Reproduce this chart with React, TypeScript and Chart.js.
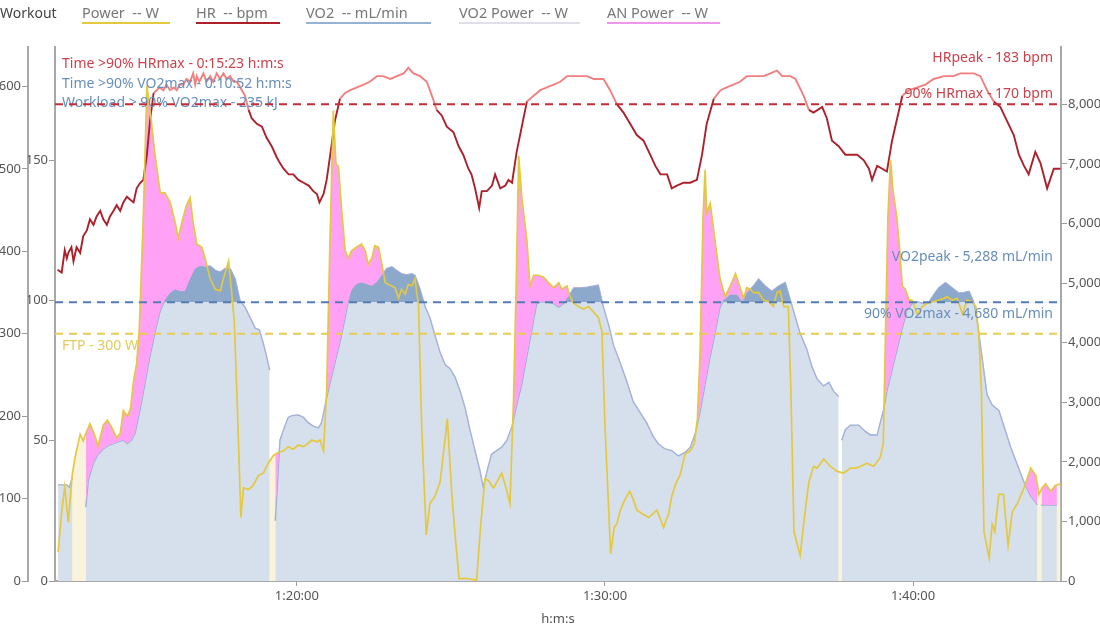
import React, { useEffect, useRef } from 'react';
import { Chart, registerables } from 'chart.js';

Chart.register(...registerables);

type Sample = [number, number | null];

// time in seconds since start of activity
const powerSamples: Sample[] = [
  [4335, 35], [4342, 84], [4348, 114], [4355, 71], [4362, 126], [4368, 150], [4378, 178], [4384, 170], [4389, 179], [4397, 191],
  [4405, 179], [4413, 164], [4423, 189], [4431, 195], [4439, 187], [4449, 174], [4456, 179], [4462, 207], [4470, 200], [4476, 209],
  [4482, 243], [4488, 264], [4493, 304], [4501, 443], [4508, 601], [4514, 571], [4524, 516], [4534, 471], [4543, 471], [4553, 460],
  [4563, 435], [4569, 416], [4576, 435], [4585, 456], [4592, 465], [4598, 435], [4605, 409], [4615, 405], [4621, 392], [4631, 367],
  [4641, 354], [4651, 352], [4657, 367], [4667, 388], [4673, 350], [4678, 316], [4683, 231], [4691, 77], [4696, 113], [4706, 111],
  [4715, 116], [4725, 128], [4735, 131], [4744, 143], [4754, 152], [4764, 156], [4774, 158], [4783, 163], [4793, 160], [4803, 165],
  [4813, 163], [4822, 167], [4829, 171], [4839, 169], [4845, 171], [4852, 158], [4858, 231], [4864, 401], [4871, 571], [4876, 507],
  [4881, 503], [4887, 452], [4894, 401], [4900, 392], [4907, 401], [4916, 405], [4926, 409], [4933, 401], [4939, 384], [4946, 392],
  [4952, 407], [4959, 405], [4965, 386], [4972, 362], [4978, 360], [4985, 358], [4991, 356], [4998, 343], [5004, 354], [5011, 348],
  [5017, 360], [5024, 358], [5030, 367], [5037, 333], [5043, 188], [5052, 56], [5059, 94], [5069, 103], [5079, 120], [5093, 197],
  [5102, 103], [5108, 56], [5116, 3], [5131, 3], [5150, 1], [5157, 60], [5166, 124], [5173, 122], [5183, 113], [5199, 131],
  [5209, 109], [5215, 94], [5222, 222], [5227, 358], [5232, 516], [5238, 465], [5248, 413], [5254, 358], [5261, 371], [5270, 371],
  [5280, 369], [5290, 362], [5300, 356], [5310, 362], [5316, 354], [5326, 358], [5332, 345], [5339, 337], [5348, 333], [5358, 330],
  [5368, 333], [5378, 326], [5387, 320], [5394, 303], [5400, 188], [5411, 33], [5418, 65], [5423, 69], [5430, 86], [5439, 99],
  [5448, 109], [5455, 99], [5462, 86], [5472, 82], [5485, 77], [5494, 82], [5501, 86], [5508, 75], [5514, 65], [5524, 82],
  [5530, 103], [5539, 120], [5546, 128], [5556, 154], [5566, 158], [5574, 167], [5580, 197], [5585, 273], [5591, 443], [5595, 499],
  [5598, 447], [5605, 458], [5615, 409], [5624, 367], [5634, 345], [5644, 358], [5654, 373], [5660, 362], [5670, 343], [5676, 356],
  [5683, 354], [5689, 350], [5699, 350], [5709, 341], [5719, 339], [5728, 333], [5735, 350], [5741, 352], [5748, 333], [5757, 333],
  [5762, 231], [5768, 60], [5780, 31], [5790, 86], [5797, 120], [5806, 139], [5813, 137], [5826, 148], [5839, 139], [5852, 133],
  [5865, 131], [5878, 137], [5888, 137], [5897, 139], [5910, 143], [5923, 139], [5936, 150], [5942, 167], [5946, 294], [5951, 443],
  [5956, 511], [5961, 473], [5968, 443], [5974, 401], [5979, 358], [5985, 354], [5992, 341], [5998, 341], [6008, 324], [6018, 333],
  [6027, 337], [6040, 339], [6050, 341], [6060, 343], [6066, 345], [6076, 341], [6086, 343], [6096, 324], [6105, 341], [6115, 339],
  [6122, 333], [6128, 299], [6133, 231], [6138, 60], [6148, 28], [6154, 69], [6159, 60], [6167, 105], [6176, 105], [6185, 43],
  [6193, 84], [6203, 94], [6216, 113], [6229, 137], [6239, 128], [6245, 105], [6251, 113], [6258, 118], [6268, 109], [6277, 116],
  [6287, 118],
];

const hrSamples: Sample[] = [
  [4334, 111], [4342, 110], [4348, 118], [4352, 115], [4355, 117], [4361, 119], [4365, 114], [4371, 119], [4378, 117], [4384, 123], [4391, 125],
  [4397, 129], [4404, 127], [4410, 130], [4417, 132], [4423, 129], [4430, 127], [4436, 130], [4443, 132], [4449, 134], [4456, 132],
  [4462, 135], [4469, 137], [4475, 136], [4482, 135], [4488, 140], [4495, 142], [4501, 143], [4508, 152], [4514, 164], [4521, 174],
  [4527, 175], [4533, 176], [4540, 175], [4546, 177], [4553, 175], [4560, 176], [4566, 175], [4572, 177], [4579, 177], [4585, 179],
  [4592, 178], [4598, 181], [4602, 177], [4605, 180], [4610, 178], [4618, 181], [4624, 178], [4631, 180], [4637, 178], [4644, 181],
  [4650, 179], [4657, 181], [4663, 179], [4670, 180], [4677, 178], [4683, 178], [4693, 175], [4699, 173], [4706, 168], [4712, 165],
  [4722, 163], [4732, 162], [4741, 158], [4751, 155], [4761, 151], [4767, 149], [4774, 147], [4784, 145], [4793, 145], [4803, 143],
  [4813, 142], [4823, 141], [4832, 139], [4839, 138], [4844, 135], [4852, 138], [4858, 143], [4865, 152], [4874, 164], [4884, 172],
  [4894, 174], [4904, 175], [4917, 176], [4930, 177], [4942, 178], [4956, 180], [4968, 180], [4982, 179], [4995, 180], [5008, 181],
  [5017, 183], [5027, 181], [5040, 180], [5053, 178], [5063, 173], [5072, 168], [5082, 166], [5092, 162], [5105, 160], [5115, 155],
  [5124, 152], [5134, 147], [5140, 145], [5147, 140], [5155, 133], [5160, 139], [5170, 139], [5180, 141], [5186, 145], [5196, 140],
  [5206, 141], [5212, 143], [5219, 142], [5228, 153], [5238, 162], [5248, 171], [5261, 173], [5274, 175], [5287, 176], [5300, 177],
  [5313, 178], [5326, 180], [5339, 180], [5352, 180], [5365, 180], [5378, 179], [5397, 179], [5410, 175], [5423, 170], [5436, 167],
  [5449, 163], [5462, 159], [5475, 157], [5488, 152], [5498, 148], [5508, 145], [5521, 145], [5530, 140], [5540, 141], [5553, 142],
  [5566, 142], [5579, 143], [5589, 152], [5598, 163], [5612, 172], [5625, 175], [5637, 176], [5650, 177], [5663, 178], [5676, 180],
  [5689, 180], [5709, 180], [5722, 181], [5735, 182], [5745, 180], [5761, 180], [5771, 179], [5787, 173], [5797, 168], [5806, 167],
  [5823, 169], [5832, 165], [5842, 157], [5855, 155], [5868, 152], [5891, 152], [5904, 150], [5914, 147], [5920, 143], [5930, 148],
  [5940, 147], [5949, 146], [5959, 157], [5969, 165], [5979, 173], [5992, 175], [6008, 176], [6024, 177], [6040, 179], [6060, 180],
  [6079, 180], [6092, 181], [6105, 181], [6118, 181], [6131, 180], [6144, 175], [6157, 171], [6170, 169], [6183, 164], [6196, 159],
  [6206, 152], [6216, 148], [6225, 145], [6238, 153], [6248, 149], [6261, 140], [6274, 147], [6287, 147],
];

const vo2Samples: Sample[] = [
  [4335, 1613], [4352, 1613], [4357, 1575], [4363, 1745], [4375, null],
  [4389, 1240], [4394, 1700], [4404, 1982], [4413, 2129], [4423, 2217], [4433, 2276], [4443, 2305], [4452, 2335], [4462, 2364], [4470, 2305],
  [4478, 2364], [4485, 2482], [4495, 2893], [4504, 3305], [4514, 3775], [4524, 4187], [4534, 4539], [4543, 4716], [4553, 4834], [4563, 4892],
  [4573, 4862], [4582, 4862], [4592, 5068], [4602, 5245], [4612, 5288], [4621, 5274], [4631, 5288], [4641, 5215], [4651, 5186], [4660, 5245],
  [4670, 5245], [4680, 5068], [4689, 4716], [4699, 4598], [4709, 4422], [4719, 4245], [4727, 4216], [4735, 3981], [4741, 3775], [4747, 3540],
  [4752, null],
  [4758, 1012], [4767, 2364], [4774, 2540], [4783, 2746], [4790, 2776], [4803, 2787], [4813, 2746], [4822, 2658], [4832, 2599], [4842, 2570],
  [4848, 2658], [4855, 2952], [4864, 3305], [4874, 3657], [4884, 4010], [4894, 4422], [4900, 4686], [4907, 4892], [4916, 4980], [4926, 5010],
  [4936, 4980], [4946, 4951], [4955, 5010], [4965, 5127], [4975, 5245], [4985, 5274], [4994, 5215], [5004, 5157], [5014, 5139], [5024, 5157],
  [5030, 5127], [5040, 4892], [5050, 4598], [5059, 4422], [5069, 4128], [5079, 3834], [5089, 3628], [5098, 3569], [5108, 3422], [5118, 3187],
  [5128, 2893], [5137, 2540], [5147, 2188], [5157, 1835], [5163, 1570], [5170, 1835], [5179, 2129], [5189, 2188], [5199, 2246], [5209, 2364],
  [5219, 2599], [5228, 2952], [5238, 3305], [5248, 3775], [5257, 4187], [5267, 4657], [5277, 4686], [5287, 4686], [5300, 4657], [5310, 4598],
  [5319, 4657], [5329, 4775], [5339, 4921], [5352, 4921], [5365, 4933], [5378, 4951], [5387, 4969], [5397, 4598], [5407, 4304], [5417, 3951],
  [5430, 3657], [5442, 3363], [5455, 3011], [5468, 2834], [5481, 2658], [5494, 2423], [5504, 2305], [5517, 2217], [5530, 2188], [5543, 2099],
  [5556, 2158], [5566, 2246], [5576, 2482], [5585, 2834], [5595, 3305], [5605, 3775], [5615, 4187], [5624, 4598], [5631, 4716], [5644, 4804],
  [5657, 4804], [5667, 4686], [5676, 4833], [5689, 4951], [5699, 5068], [5712, 4951], [5725, 4863], [5738, 4951], [5751, 5010], [5761, 4716],
  [5771, 4422], [5780, 4157], [5793, 3892], [5803, 3600], [5813, 3393], [5826, 3275], [5836, 3334], [5845, 3187], [5855, 3099],
  [5858, null],
  [5861, 2364], [5868, 2540], [5878, 2617], [5894, 2617], [5907, 2511], [5917, 2452], [5930, 2452], [5936, 2658], [5943, 2893], [5949, 3187],
  [5959, 3540], [5969, 3892], [5979, 4245], [5988, 4539], [5998, 4657], [6008, 4686], [6021, 4657], [6031, 4686], [6040, 4804], [6050, 4921],
  [6063, 5010], [6076, 4921], [6089, 4833], [6099, 4845], [6109, 4863], [6118, 4686], [6125, 4363], [6134, 3775], [6144, 3128], [6154, 2952],
  [6167, 2864], [6177, 2599], [6190, 2246], [6203, 1952], [6216, 1658], [6229, 1423], [6242, 1277],
  [6246, null],
  [6250, 1277], [6280, 1277],
];

const timeTickValues = [4800, 5400, 6000];
const powerTickValues = [0, 100, 200, 300, 400, 500, 600];
const hrTickValues = [0, 50, 100, 150];
const vo2TickValues = [0, 1000, 2000, 3000, 4000, 5000, 6000, 7000, 8000];

const X_MIN = 4329;
const X_MAX = 6288;
const POWER_MAX = 648;
const HR_MAX = 190.4;
const VO2_MAX = 8964;

const HR_THRESHOLD = 170;
const HR_PEAK = 183;
const VO2_THRESHOLD = 4680;
const VO2_PEAK = 5288;
const FTP = 300;

const legendTitle = 'Workout';
const legendLabels = ['Power  -- W', 'HR  -- bpm', 'VO2  -- mL/min', 'VO2 Power  -- W', 'AN Power  -- W'];
const summaryLines = [
  'Time >90% HRmax - 0:15:23 h:m:s',
  'Time >90% VO2max - 0:10:52 h:m:s',
  'Workload > 90% VO2max - 235 kJ',
];
const hrPeakLabel = 'HRpeak - 183 bpm';
const hrThresholdLabel = '90% HRmax - 170 bpm';
const vo2PeakLabel = 'VO2peak - 5,288 mL/min';
const vo2ThresholdLabel = '90% VO2max - 4,680 mL/min';
const ftpLabel = 'FTP - 300 W';

const FONT = "'Noto Sans', 'Open Sans', sans-serif";
const C_POWER = 'rgb(228,200,62)';
const C_HR_DARK = 'rgb(172,32,44)';
const C_HR_LIGHT = 'rgb(240,128,128)';
const C_VO2 = 'rgb(150,178,210)';
const C_VO2_FILL = 'rgb(214,224,236)';
const C_VO2_HIGH = 'rgb(140,168,202)';
const C_AN = 'rgb(255,162,245)';
const C_CREAM = 'rgb(250,243,220)';
const C_TEXT_RED = 'rgb(204,66,76)';
const C_TEXT_BLUE = 'rgb(104,142,186)';
const C_TEXT_YELLOW = 'rgb(226,202,92)';

const toPoints = (s: Sample[]) => s.map(([x, y]) => ({ x, y }));

function fmtTime(sec: number) {
  const h = Math.floor(sec / 3600);
  const m = Math.floor((sec % 3600) / 60);
  const s = Math.round(sec % 60);
  return `${h}:${String(m).padStart(2, '0')}:${String(s).padStart(2, '0')}`;
}

const overlayPlugin = {
  id: 'overlay',
  afterDatasetsDraw(chart: any) {
    const { ctx, chartArea: a, scales } = chart;
    const yHR = scales.yHR.getPixelForValue(HR_THRESHOLD);
    const yHRPeak = scales.yHR.getPixelForValue(HR_PEAK);
    const yVO2 = scales.yVO2.getPixelForValue(VO2_THRESHOLD);
    const yVO2Peak = scales.yVO2.getPixelForValue(VO2_PEAK);
    const yFTP = scales.yPower.getPixelForValue(FTP);
    ctx.save();
    ctx.font = `14px ${FONT}`;
    ctx.textBaseline = 'middle';
    ctx.textAlign = 'left';
    const lx = a.left + 7;
    ctx.fillStyle = C_TEXT_RED;
    ctx.fillText(summaryLines[0], lx, a.top + 17);
    ctx.fillStyle = C_TEXT_BLUE;
    ctx.fillText(summaryLines[1], lx, a.top + 37);
    ctx.fillText(summaryLines[2], lx, a.top + 56);
    ctx.fillStyle = C_TEXT_YELLOW;
    ctx.fillText(ftpLabel, lx, yFTP + 12);
    ctx.textAlign = 'right';
    const rx = a.right - 8;
    ctx.fillStyle = C_TEXT_RED;
    ctx.fillText(hrPeakLabel, rx, yHRPeak - 10);
    ctx.fillText(hrThresholdLabel, rx, yHR - 10);
    ctx.fillStyle = C_TEXT_BLUE;
    ctx.fillText(vo2PeakLabel, rx, yVO2Peak - 9);
    ctx.fillText(vo2ThresholdLabel, rx, yVO2 + 12);

    const dashed = (y: number, color: string) => {
      ctx.beginPath();
      ctx.setLineDash([8, 6]);
      ctx.lineWidth = 2;
      ctx.strokeStyle = color;
      ctx.moveTo(a.left, y);
      ctx.lineTo(a.right, y);
      ctx.stroke();
    };
    dashed(yHR, 'rgb(196,44,56)');
    dashed(yVO2, 'rgb(84,124,178)');
    dashed(yFTP, 'rgb(232,204,80)');
    ctx.restore();
  },
  afterDraw(chart: any) {
    const { ctx } = chart;
    ctx.save();
    ctx.font = `14px ${FONT}`;
    ctx.textBaseline = 'middle';
    ctx.textAlign = 'left';
    ctx.fillStyle = '#444';
    ctx.fillText(legendTitle, 0, 14);
    const xs = [82, 196, 306, 459, 607];
    const ws = [88, 84, 125, 121, 113];
    const cols = [C_POWER, C_HR_DARK, C_VO2, 'rgb(222,224,230)', 'rgb(236,150,236)'];
    ctx.font = `14.5px ${FONT}`;
    legendLabels.forEach((label, i) => {
      ctx.fillStyle = '#777';
      ctx.fillText(label, xs[i], 14);
      ctx.beginPath();
      ctx.setLineDash([]);
      ctx.strokeStyle = cols[i];
      ctx.lineWidth = 2;
      ctx.moveTo(xs[i], 23);
      ctx.lineTo(xs[i] + ws[i], 23);
      ctx.stroke();
    });
    ctx.restore();
  },
};

const tickFont = { family: FONT, size: 13 };
const axisGrid = { drawOnChartArea: false, tickLength: 6, color: '#9a9a9a' };
const axisBorder = { color: '#a8a8a8', width: 2 };

export default function App() {
  const canvasRef = useRef<HTMLCanvasElement | null>(null);

  useEffect(() => {
    if (!canvasRef.current) return;
    Chart.defaults.font.family = FONT;
    const power = toPoints(powerSamples);
    const hr = toPoints(hrSamples);
    const vo2 = toPoints(vo2Samples);
    const none = 'rgba(0,0,0,0)';

    const chart = new Chart(canvasRef.current, {
      type: 'line',
      data: {
        datasets: [
          {
            label: legendLabels[0], data: power, yAxisID: 'yPower', borderColor: C_POWER, borderWidth: 1.7,
            pointRadius: 0, fill: false, order: 0,
          },
          {
            label: legendLabels[1], data: hr, yAxisID: 'yHR', borderColor: C_HR_DARK, borderWidth: 1.9,
            pointRadius: 0, fill: false, order: 1,
            segment: {
              borderColor: (c: any) => ((c.p0.parsed.y + c.p1.parsed.y) / 2 > HR_THRESHOLD ? C_HR_LIGHT : C_HR_DARK),
            },
          },
          {
            label: legendLabels[2], data: vo2, yAxisID: 'yVO2', borderColor: C_VO2, borderWidth: 1.4,
            backgroundColor: C_VO2_FILL, pointRadius: 0, fill: 'origin', order: 5, spanGaps: false,
          },
          {
            label: legendLabels[4], data: power, yAxisID: 'yPower', borderColor: none, borderWidth: 0,
            backgroundColor: C_AN, pointRadius: 0, order: 2,
            fill: { target: 2, above: C_AN, below: none },
          },
          {
            label: 'VO2 high', data: vo2, yAxisID: 'yVO2', borderColor: none, borderWidth: 0,
            backgroundColor: C_VO2_HIGH, pointRadius: 0, order: 3, spanGaps: false,
            fill: { target: { value: VO2_THRESHOLD }, above: C_VO2_HIGH, below: none },
          },
          {
            label: 'Power area', data: power, yAxisID: 'yPower', borderColor: none, borderWidth: 0,
            backgroundColor: C_CREAM, pointRadius: 0, order: 6, fill: 'origin',
          },
        ] as any,
      },
      options: {
        responsive: false,
        maintainAspectRatio: false,
        animation: false,
        devicePixelRatio: 1,
        layout: { padding: { top: 47, left: 0, right: 0, bottom: 0 } },
        plugins: { legend: { display: false }, tooltip: { enabled: false } },
        elements: { line: { tension: 0 } },
        scales: {
          x: {
            type: 'linear', min: X_MIN, max: X_MAX,
            afterBuildTicks: (s: any) => { s.ticks = timeTickValues.map((v) => ({ value: v })); },
            ticks: { callback: (v: any) => fmtTime(Number(v)), color: '#555', font: tickFont, padding: 2, maxRotation: 0, autoSkip: false },
            grid: { ...axisGrid, tickLength: 5 },
            border: axisBorder,
            title: { display: true, text: 'h:m:s', color: '#555', font: tickFont, padding: { top: 2, bottom: 0 } },
            afterFit: (s: any) => { s.height = 46; },
          },
          yPower: {
            type: 'linear', position: 'left', weight: 1, min: 0, max: POWER_MAX,
            afterBuildTicks: (s: any) => { s.ticks = powerTickValues.map((v) => ({ value: v })); },
            ticks: { color: '#555', font: tickFont, padding: 1 },
            grid: axisGrid, border: axisBorder,
            afterFit: (s: any) => { s.width = 28; },
          },
          yHR: {
            type: 'linear', position: 'left', weight: 0, min: 0, max: HR_MAX,
            afterBuildTicks: (s: any) => { s.ticks = hrTickValues.map((v) => ({ value: v })); },
            ticks: { color: '#555', font: tickFont, padding: 1 },
            grid: axisGrid, border: axisBorder,
            afterFit: (s: any) => { s.width = 27; },
          },
          yVO2: {
            type: 'linear', position: 'right', min: 0, max: VO2_MAX,
            afterBuildTicks: (s: any) => { s.ticks = vo2TickValues.map((v) => ({ value: v })); },
            ticks: { color: '#555', font: tickFont, padding: 1, callback: (v: any) => Number(v).toLocaleString('en-US') },
            grid: axisGrid, border: axisBorder,
            afterFit: (s: any) => { s.width = 39; },
          },
        },
      } as any,
      plugins: [overlayPlugin],
    });
    return () => chart.destroy();
  }, []);

  return (
    <div style={{ position: 'fixed', left: 0, top: 0, width: 1100, height: 627, background: '#fff' }}>
      <canvas ref={canvasRef} width={1100} height={627} style={{ width: 1100, height: 627, display: 'block' }} />
    </div>
  );
}
